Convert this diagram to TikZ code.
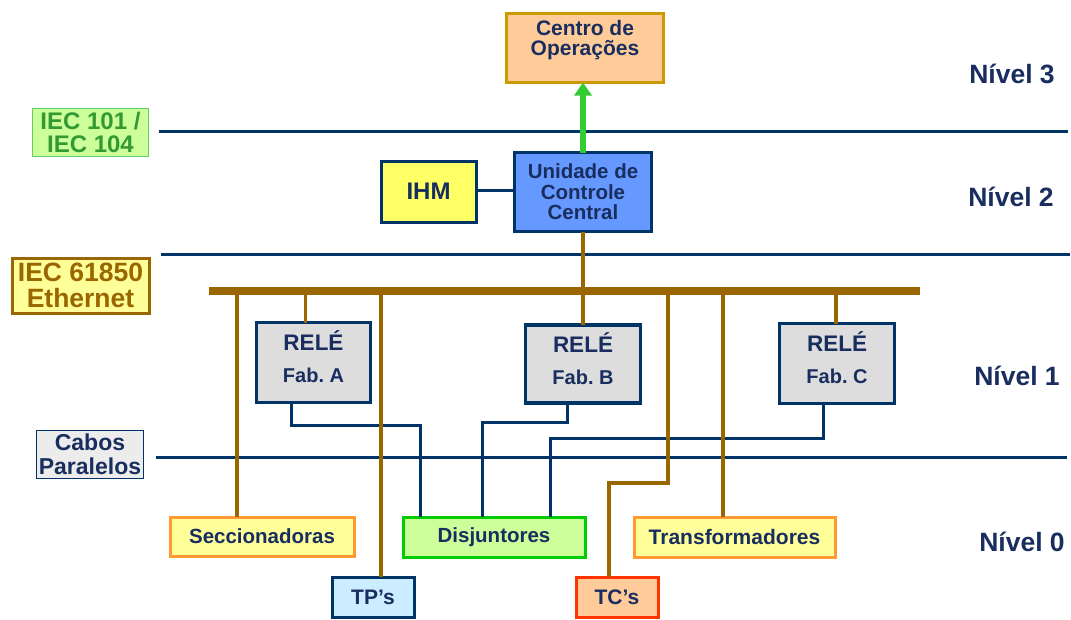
\documentclass[tikz,border=0pt]{standalone}
\usepackage{fontspec}
\setmainfont{Liberation Sans}
\usetikzlibrary{arrows.meta}
\frenchspacing
\definecolor{navyline}{RGB}{0,51,102}
\definecolor{txtnavy}{RGB}{25,45,95}
\definecolor{brownw}{RGB}{153,102,0}
\definecolor{greenarr}{RGB}{51,204,51}
\definecolor{centrofill}{RGB}{255,204,153}
\definecolor{centrodraw}{RGB}{204,153,0}
\definecolor{iecgfill}{RGB}{204,255,153}
\definecolor{iecgdraw}{RGB}{102,204,102}
\definecolor{iecgtext}{RGB}{51,153,51}
\definecolor{paleyellow}{RGB}{255,255,153}
\definecolor{cabosfill}{RGB}{236,236,236}
\definecolor{ihmfill}{RGB}{255,255,102}
\definecolor{uccfill}{RGB}{102,153,255}
\definecolor{relefill}{RGB}{221,221,221}
\definecolor{orangedraw}{RGB}{255,153,51}
\definecolor{disjdraw}{RGB}{0,204,0}
\definecolor{tpfill}{RGB}{204,236,255}
\definecolor{tcdraw}{RGB}{255,51,0}
\newcommand{\myfs}[2]{\fontsize{#1pt}{#2pt}\selectfont}
\begin{document}
\begin{tikzpicture}[x=1pt,y=-1pt,
  box/.style={draw=navyline,line width=3pt,inner sep=0pt,outer sep=0pt,
    align=center,text=txtnavy,font=\bfseries\myfs{20.5}{20.5}},
  sepline/.style={draw=navyline,line width=3pt},
  brownwire/.style={draw=brownw,line width=3.2pt},
  navywire/.style={draw=navyline,line width=3pt},
  buswire/.style={draw=brownw,line width=7.5pt},
  nivel/.style={anchor=base,text=txtnavy,font=\bfseries\myfs{26.5}{26.5},inner sep=0pt},
  txt/.style={text=txtnavy,align=center,inner sep=0pt}
]
\useasboundingbox (0,0) rectangle (1071,619);

% separator lines
\coordinate (s1a) at (159,131); \coordinate (s1b) at (1068,131);
\coordinate (s2a) at (161,254); \coordinate (s2b) at (1070,254);
\coordinate (s3a) at (156,457); \coordinate (s3b) at (1067,457);
\draw[sepline] (s1a) -- (s1b);
\draw[sepline] (s2a) -- (s2b);
\draw[sepline] (s3a) -- (s3b);

% boxes
\node[box,draw=centrodraw,fill=centrofill,minimum width=157,minimum height=69] (centro) at (585,48) {};
\node[txt,font=\bfseries\myfs{21}{20}] (centrot) at (585,40) {Centro de\\Operações};
\node[box,draw=iecgdraw,line width=1.8pt,fill=iecgfill,text=iecgtext,font=\bfseries\myfs{24}{23},
  minimum width=116,minimum height=48] (iec101) at (90.5,132.5) {IEC 101 /\\IEC 104};
\node[box,draw=brownw,fill=paleyellow,text=brownw,font=\bfseries\myfs{26.5}{26},
  minimum width=137,minimum height=55] (iec61850) at (80.5,285.5) {IEC 61850\\Ethernet};
\node[box,line width=1.8pt,fill=cabosfill,font=\bfseries\myfs{23}{24},
  minimum width=107,minimum height=48] (cabos) at (90,454.5) {Cabos\\Paralelos};
\node[box,fill=ihmfill,font=\bfseries\myfs{24}{24},minimum width=95,minimum height=61] (ihm) at (428.5,191.5) {IHM};
\node[box,line width=3.3pt,fill=uccfill,font=\bfseries\myfs{20.5}{20.5},minimum width=137,minimum height=79] (ucc) at (583,192) {Unidade de\\Controle\\Central};
\node[box,line width=3.3pt,fill=relefill,font=\bfseries\myfs{20}{32},text depth=11pt,minimum width=114,minimum height=80] (releA) at (313.5,362.5) {{\myfs{22.5}{32}RELÉ}\\Fab. A};
\node[box,line width=3.3pt,fill=relefill,font=\bfseries\myfs{20}{32},text depth=11pt,minimum width=115,minimum height=78] (releB) at (583,364) {{\myfs{22.5}{32}RELÉ}\\Fab. B};
\node[box,line width=3.3pt,fill=relefill,font=\bfseries\myfs{20}{32},text depth=11pt,minimum width=115,minimum height=80] (releC) at (837,363.5) {{\myfs{22.5}{32}RELÉ}\\Fab. C};
\node[box,draw=orangedraw,fill=paleyellow,minimum width=184,minimum height=39] (secc) at (262,536.5) {Seccionadoras};
\node[box,draw=disjdraw,fill=iecgfill,minimum width=182,minimum height=40] (disj) at (494,537) {Disjuntores};
\node[box,draw=orangedraw,fill=paleyellow,font=\bfseries\myfs{21}{21},minimum width=201,minimum height=40] (trans) at (734.5,537) {Transformadores};
\node[box,fill=tpfill,font=\bfseries\myfs{21}{21},minimum width=82,minimum height=40] (tp) at (373,597) {TP’s};
\node[box,draw=tcdraw,fill=centrofill,font=\bfseries\myfs{21}{21},minimum width=82,minimum height=40] (tc) at (617,597) {TC’s};

% level labels
\node[nivel] (n3) at (1012,83.3) {Nível 3};
\node[nivel] (n2) at (1011,206.7) {Nível 2};
\node[nivel] (n1) at (1017,385) {Nível 1};
\node[nivel] (n0) at (1022,551.7) {Nível 0};

% green arrow
\draw[draw=greenarr,line width=6pt,-{Triangle[width=17pt,length=13pt]}] (ucc.north) -- (ucc.north |- centro.south);
% IHM link
\draw[navywire] (ihm.east |- 0,190) -- (ucc.west |- 0,190);

% relay to disjuntor wires
\draw[navywire] (releA.south -| 291,0) |- (420,425) -- (disj.north -| 420,0);
\draw[navywire] (releB.south -| 567,0) |- (482,422) -- (disj.north -| 482,0);
\draw[navywire] (releC.south -| 823,0) |- (550,438) -- (disj.north -| 550,0);

% bus taps
\coordinate (busL) at (209,291); \coordinate (busR) at (920,291);
\coordinate (t1) at (237,291); \coordinate (t2) at (305.5,291);
\coordinate (t3) at (381,291); \coordinate (t5) at (668,291);
\coordinate (t6) at (723,291); \coordinate (t7) at (836,291);
\draw[brownwire] (ucc.south) -- (releB.north);
\draw[brownwire] (t1) -- (t1 |- secc.north);
\draw[brownwire] (t2) -- (t2 |- releA.north);
\draw[brownwire] (t3) -- (t3 |- tp.north);
\draw[brownwire] (t5) |- (609,483) -- (609,0 |- tc.north);
\draw[brownwire] (t6) -- (t6 |- trans.north);
\draw[brownwire] (t7) -- (t7 |- releC.north);
\draw[buswire] (busL) -- (busR);
\end{tikzpicture}
\end{document}
